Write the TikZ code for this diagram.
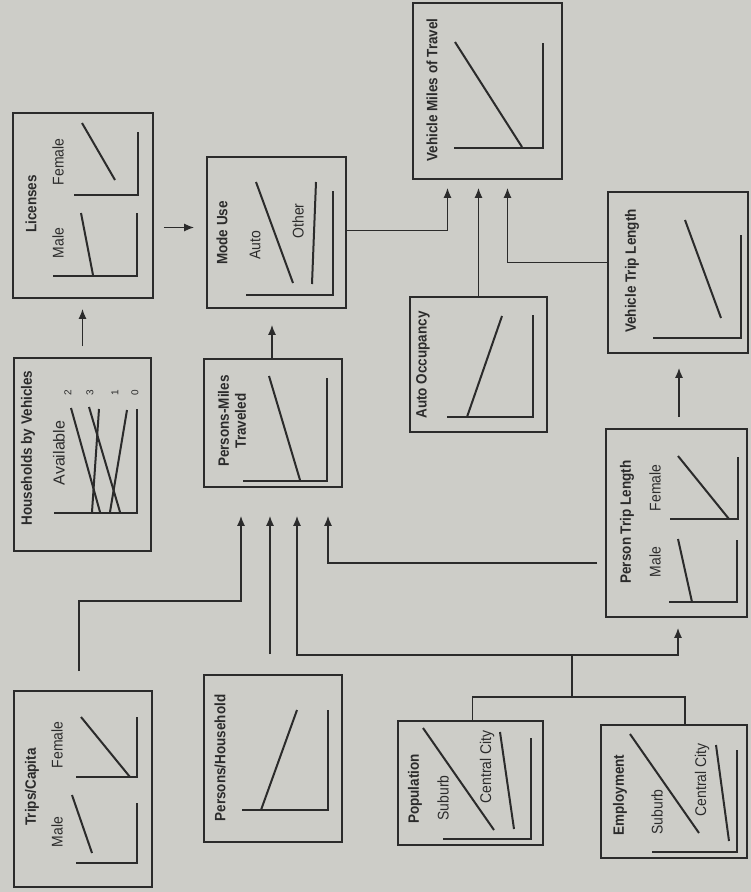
\documentclass[tikz,border=0pt]{standalone}
\usepackage{fontspec}
\setmainfont{Liberation Sans}
\newfontfamily\narrowsf[FakeStretch=0.9]{Liberation Sans}
\usepackage{tikz}
\usetikzlibrary{arrows.meta}
\definecolor{Paper}{HTML}{CDCDC8}
\definecolor{Ink}{HTML}{2B2B2B}

\begin{document}
\begin{tikzpicture}[x=1pt,y=-1pt,>={Latex[length=10pt,width=8pt]},
 box/.style={draw=Ink,line width=1.6pt,inner sep=0pt},
 title/.style={rotate=90,text=Ink,align=center,inner sep=0pt,
               font=\narrowsf\bfseries\fontsize{15}{17}\selectfont},
 tag/.style={rotate=90,text=Ink,inner sep=0pt,
             font=\narrowsf\fontsize{15.5}{17}\selectfont},
 plot/.style={draw=Ink,line width=2pt},
 link/.style={draw=Ink,line width=1.6pt}]
\useasboundingbox[fill=Paper] (0,0) rectangle (751,892);
% boxes
\node[box,minimum width=140pt,minimum height=185pt] (lic) at (83,205.5) {};
\node[box,minimum width=137pt,minimum height=193pt] (hh) at (82.5,454.5) {};
\node[box,minimum width=138pt,minimum height=196pt] (trips) at (83,789) {};
\node[box,minimum width=139pt,minimum height=151pt] (mode) at (276.5,232.5) {};
\node[box,minimum width=138pt,minimum height=128pt] (pmt) at (273,423) {};
\node[box,minimum width=138pt,minimum height=167pt] (pph) at (273,758.5) {};
\node[box,minimum width=149pt,minimum height=176pt] (vmt) at (487.5,91) {};
\node[box,minimum width=137pt,minimum height=135pt] (ao) at (478.5,364.5) {};
\node[box,minimum width=145pt,minimum height=124pt] (pop) at (470.5,783) {};
\node[box,minimum width=140pt,minimum height=161pt] (vtl) at (678,272.5) {};
\node[box,minimum width=141pt,minimum height=188pt] (ptl) at (676.5,523) {};
\node[box,minimum width=146pt,minimum height=133pt] (emp) at (674,791.5) {};
% texts
\node[title] (lic-t) at (31,204) {Licenses};
\node[tag] (lic-m) at (58,243) {Male};
\node[tag] (lic-f) at (58,162) {Female};
\node[title] (hh-t) at (28,448) {Households by Vehicles};
\node[tag,font=\fontsize{16}{18}\selectfont] (hh-a) at (59,453) {Available};
\node[tag,font=\fontsize{10}{12}\selectfont] (hh-2) at (68,393) {2};
\node[tag,font=\fontsize{10}{12}\selectfont] (hh-3) at (90,393) {3};
\node[tag,font=\fontsize{10}{12}\selectfont] (hh-1) at (115,393) {1};
\node[tag,font=\fontsize{10}{12}\selectfont] (hh-0) at (135,393) {0};
\node[title] (trips-t) at (32,787) {Trips/Capita};
\node[tag] (trips-m) at (57,832) {Male};
\node[tag] (trips-f) at (57,745) {Female};
\node[title] (mode-t) at (222,233) {Mode Use};
\node[tag] (mode-a) at (255,245) {Auto};
\node[tag] (mode-o) at (298,221) {Other};
\node[title] (pmt-t) at (232,421) {Persons-Miles\\Traveled};
\node[title] (pph-t) at (220,758) {Persons/Household};
\node[title] (vmt-t) at (432,90) {Vehicle Miles of Travel};
\node[title] (ao-t) at (423,365) {Auto Occupancy};
\node[title] (pop-t) at (415,789) {Population};
\node[tag] (pop-s) at (443,798) {Suburb};
\node[tag] (pop-c) at (487,767) {Central City};
\node[title] (vtl-t) at (632,271) {Vehicle Trip Length};
\node[title] (ptl-t) at (627,522) {Person Trip Length};
\node[tag] (ptl-m) at (655,562) {Male};
\node[tag] (ptl-f) at (655,488) {Female};
\node[title] (emp-t) at (620,795) {Employment};
\node[tag] (emp-s) at (657,812) {Suburb};
\node[tag] (emp-c) at (702,780) {Central City};
% small plots
\draw[plot] (74,195) -- (138,195) -- (138,132);
\draw[plot] (82,123) -- (115,180);
\draw[plot] (53,276) -- (137,276) -- (137,213);
\draw[plot] (81,213) -- (93,275);
\draw[plot] (54,513) -- (137,513) -- (137,409);
\draw[plot] (71,408) -- (100,512);
\draw[plot] (89,407) -- (120,512);
\draw[plot] (99,409) -- (92,512);
\draw[plot] (127,410) -- (110,512);
\draw[plot] (76,777) -- (137,777) -- (137,717);
\draw[plot] (81,717) -- (130,777);
\draw[plot] (76,863) -- (137,863) -- (137,803);
\draw[plot] (72,795) -- (92,853);
\draw[plot] (246,295) -- (333,295) -- (333,191);
\draw[plot] (256,182) -- (293,283);
\draw[plot] (316,182) -- (312,284);
\draw[plot] (243,481) -- (327,481) -- (327,378);
\draw[plot] (269,376) -- (300,480);
\draw[plot] (242,810) -- (328,810) -- (328,710);
\draw[plot] (261,810) -- (297,710);
\draw[plot] (454,148) -- (543,148) -- (543,43);
\draw[plot] (455,42) -- (522,147);
\draw[plot] (447,417) -- (533,417) -- (533,315);
\draw[plot] (467,417) -- (502,316);
\draw[plot] (443,839) -- (531,839) -- (531,738);
\draw[plot] (423,728) -- (494,830);
\draw[plot] (500,732) -- (514,829);
\draw[plot] (653,338) -- (741,338) -- (741,235);
\draw[plot] (685,220) -- (721,318);
\draw[plot] (670,519) -- (738,519) -- (738,457);
\draw[plot] (678,456) -- (729,519);
\draw[plot] (669,602) -- (737,602) -- (737,540);
\draw[plot] (678,539) -- (692,602);
\draw[plot] (652,852) -- (737,852) -- (737,750);
\draw[plot] (630,734) -- (699,833);
\draw[plot] (716,745) -- (729,841);
% connectors
\coordinate (j) at (572,697);
\coordinate (k) at (572,655);
\draw[link,->,shorten <=11pt,shorten >=10pt] (hh.north) -- (hh.north |- lic.south);
\draw[link,->,shorten <=10pt,shorten >=12pt] ([yshift=-22pt]lic.east) -- ([yshift=-22pt]lic.east -| mode.west);
\draw[link,->] ([xshift=-4pt,yshift=19pt]trips.north) |- (241,601) -- ([xshift=-32pt,yshift=-28pt]pmt.south);
\draw[link,->] ([xshift=-3pt,yshift=20pt]pph.north) -- ([xshift=-3pt,yshift=-28pt]pmt.south);
\draw[link] ([xshift=2pt]pop.north) |- (j) -| ([xshift=11pt]emp.north);
\draw[link] (j) -- (k);
\draw[link,->] (k) -| ([xshift=24pt,yshift=-28pt]pmt.south);
\draw[link,->] (k) -| ([xshift=1.5pt,yshift=-10pt]ptl.south);
\draw[link,->] ([xshift=-8pt,yshift=-40pt]ptl.west) -| ([xshift=55pt,yshift=-28pt]pmt.south);
\draw[link,->,shorten >=16pt] ([xshift=-1pt]pmt.north) -- ([xshift=-1pt]pmt.north |- mode.south);
\draw[link,->] ([yshift=2pt]mode.east) -| ([xshift=-40pt,yshift=-8pt]vmt.south);
\draw[link,->,shorten >=8pt] (ao.north) -- (ao.north |- vmt.south);
\draw[link,->] ([yshift=10pt]vtl.west) -| ([xshift=20pt,yshift=-8pt]vmt.south);
\draw[link,->,shorten <=11pt,shorten >=14pt] ([xshift=2.5pt]ptl.north) -- ([xshift=2.5pt]ptl.north |- vtl.south);
\end{tikzpicture}
\end{document}
